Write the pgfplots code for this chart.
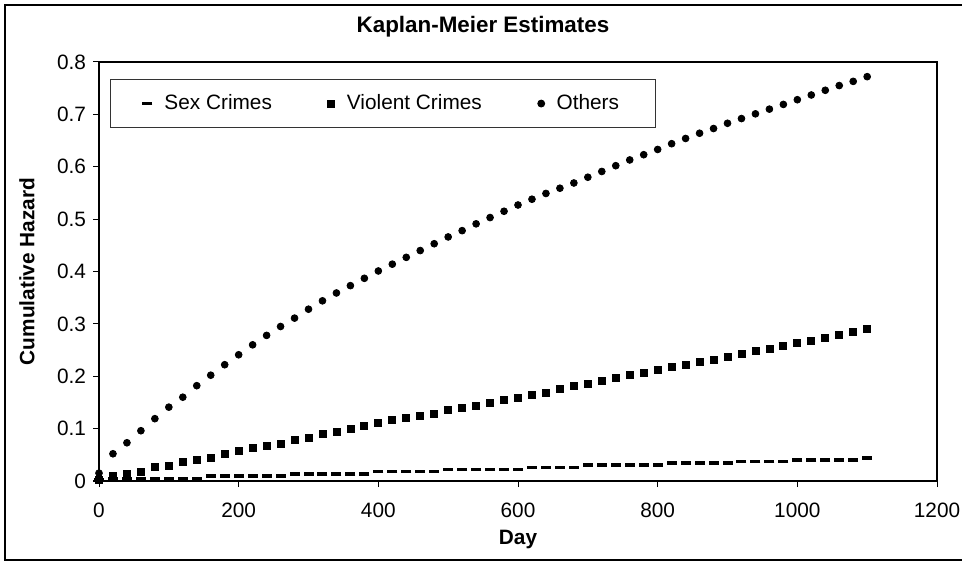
\documentclass[border=0pt]{standalone}
\usepackage{pgfplots}
\pgfplotsset{compat=1.18}
\usepackage{fontspec}
\setmainfont{Liberation Sans}

% Kaplan-Meier cumulative hazard, read every 20 days
\pgfplotstableread{
day sex violent others
0    0.002 0.002 0.015
20   0.004 0.010 0.052
40   0.004 0.013 0.073
60   0.004 0.018 0.096
80   0.004 0.026 0.119
100  0.004 0.029 0.141
120  0.004 0.036 0.160
140  0.004 0.041 0.182
160  0.010 0.045 0.202
180  0.010 0.052 0.222
200  0.010 0.057 0.241
220  0.010 0.063 0.260
240  0.010 0.067 0.278
260  0.010 0.071 0.295
280  0.013 0.078 0.311
300  0.013 0.082 0.328
320  0.013 0.089 0.344
340  0.013 0.094 0.359
360  0.013 0.100 0.373
380  0.013 0.105 0.387
400  0.018 0.110 0.401
420  0.018 0.116 0.414
440  0.018 0.120 0.427
460  0.018 0.125 0.440
480  0.018 0.129 0.453
500  0.022 0.135 0.466
520  0.022 0.139 0.478
540  0.022 0.144 0.491
560  0.022 0.150 0.503
580  0.022 0.154 0.515
600  0.022 0.158 0.527
620  0.026 0.165 0.538
640  0.026 0.169 0.549
660  0.026 0.176 0.559
680  0.026 0.181 0.569
700  0.030 0.186 0.580
720  0.030 0.191 0.591
740  0.030 0.196 0.602
760  0.030 0.202 0.613
780  0.030 0.207 0.623
800  0.030 0.212 0.633
820  0.034 0.217 0.644
840  0.034 0.222 0.654
860  0.034 0.227 0.664
880  0.034 0.232 0.673
900  0.034 0.237 0.683
920  0.037 0.243 0.692
940  0.037 0.248 0.701
960  0.037 0.253 0.710
980  0.037 0.258 0.719
1000 0.040 0.263 0.728
1020 0.040 0.268 0.737
1040 0.040 0.274 0.746
1060 0.040 0.279 0.755
1080 0.040 0.284 0.763
1100 0.044 0.290 0.772
}\kmdata

\begin{document}
\begin{tikzpicture}
\useasboundingbox (0,0) rectangle (481pt,280.5pt);
\draw[line width=0.65pt] (481pt,278pt) -- (2.5pt,278pt) -- (2.5pt,0.5pt) -- (481pt,0.5pt);
\begin{axis}[
    at={(49.5pt,40pt)}, anchor=south west,
    scale only axis,
    width=419pt, height=209.5pt,
    xmin=0, xmax=1200, ymin=0, ymax=0.8,
    xtick={0,200,...,1200},
    ytick={0,0.1,...,0.8},
    tick pos=left,
    tick align=outside,
    major tick length=3pt,
    axis line style={line width=0.65pt},
    every tick/.style={black, line width=0.5pt},
    clip=false,
    font=\fontsize{10.4}{12}\selectfont,
    /pgf/number format/assume math mode=true,
    /pgf/number format/1000 sep={},
    xticklabel style={yshift=-4.5pt},
    yticklabel style={/pgf/number format/fixed, /pgf/number format/precision=1},
    title={Kaplan-Meier Estimates},
    title style={at={(axis description cs:0.4582,1.0406)}, anchor=base,
        font=\bfseries\fontsize{11.2}{13}\selectfont},
    xlabel={Day},
    xlabel style={at={(axis description cs:0.5,-0.1527)}, anchor=base,
        font=\bfseries\fontsize{10.4}{12}\selectfont},
    ylabel={Cumulative Hazard},
    ylabel style={at={(axis description cs:-0.0859,0.5)}, anchor=center,
        font=\bfseries\fontsize{10.4}{12}\selectfont},
    legend columns=3,
    legend style={at={(rel axis cs:0.0131,0.9594)}, anchor=north west,
        draw=black!80, line width=0.5pt, inner xsep=16pt, inner ysep=5.5pt,
        font=\fontsize{10.4}{12}\selectfont,
        /tikz/every odd column/.append style={column sep=4pt},
        /tikz/every even column/.append style={column sep=26pt}},
    legend image code/.code={\draw[mark repeat=2,mark phase=2,#1]
        plot coordinates {(0pt,0pt) (3pt,0pt) (10pt,0pt)};},
]
\addplot[only marks, mark=-, mark size=2.5pt, mark options={line width=1.8pt}]
    table[x=day, y=sex] {\kmdata};
\addlegendentry{Sex Crimes}
\addplot[only marks, mark=square*, mark size=1.75pt]
    table[x=day, y=violent] {\kmdata};
\addlegendentry{Violent Crimes}
\addplot[only marks, mark=*, mark size=1.7pt]
    table[x=day, y=others] {\kmdata};
\addlegendentry{Others}
\end{axis}
\end{tikzpicture}
\end{document}
